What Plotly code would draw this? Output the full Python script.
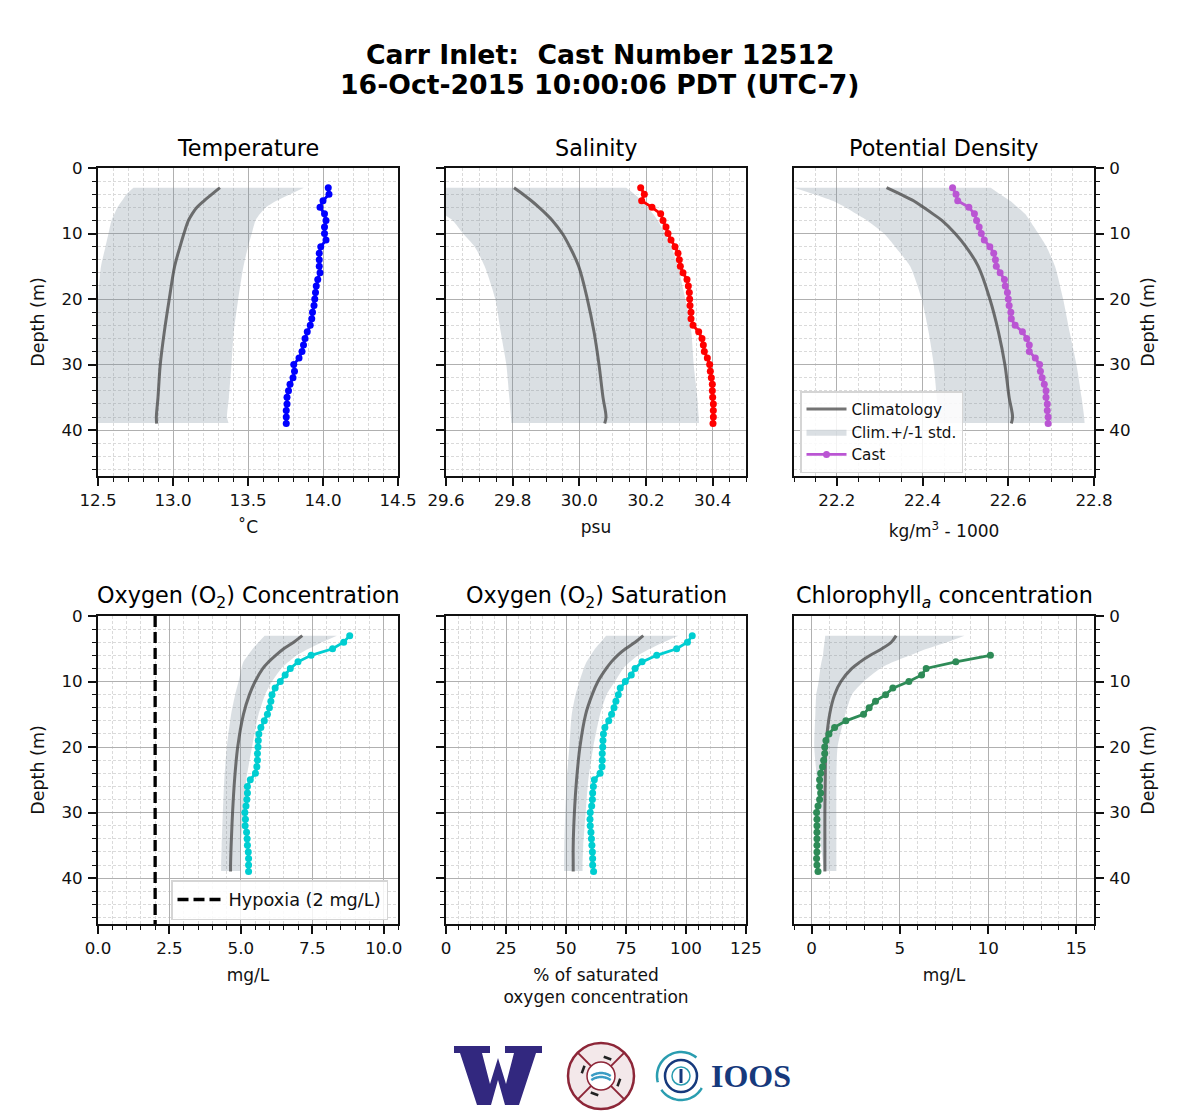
import math
import plotly.graph_objects as go

W, H = 1200, 1120

depth_cast = list(range(3, 40))
depth_chl = list(range(6, 40))
depth_clim = [3, 4, 5, 6, 7, 8, 10, 12, 15, 20, 25, 30, 35, 38, 39]
depth_band = [3, 4, 5, 6, 7, 8, 10, 12, 15, 20, 25, 30, 35, 38, 38.9]

temp_cast = [14.035, 14.04, 14.0, 13.98, 14.01, 14.02, 14.01, 14.01, 14.02, 13.985, 13.975, 13.975, 13.975, 13.98, 13.965, 13.955, 13.95, 13.945, 13.94, 13.93, 13.925, 13.915, 13.895, 13.88, 13.87, 13.86, 13.84, 13.805, 13.81, 13.80, 13.78, 13.77, 13.76, 13.76, 13.755, 13.755, 13.755]
temp_clim = [13.313, 13.26, 13.207, 13.16, 13.128, 13.103, 13.073, 13.047, 13.011, 12.975, 12.942, 12.915, 12.90, 12.889, 12.891]
temp_low = [12.736, 12.69, 12.66, 12.63, 12.61, 12.59, 12.57, 12.55, 12.52, 12.50, 12.48, 12.46, 12.44, 12.43, 12.42]
temp_high = [13.873, 13.78, 13.69, 13.62, 13.58, 13.55, 13.525, 13.50, 13.47, 13.435, 13.405, 13.39, 13.373, 13.36, 13.37]

sal_cast = [30.184, 30.195, 30.187, 30.218, 30.244, 30.251, 30.26, 30.266, 30.275, 30.287, 30.296, 30.30, 30.303, 30.311, 30.323, 30.327, 30.33, 30.331, 30.332, 30.335, 30.335, 30.341, 30.358, 30.368, 30.372, 30.375, 30.384, 30.391, 30.393, 30.396, 30.399, 30.399, 30.40, 30.402, 30.402, 30.402, 30.401]
sal_clim = [29.804, 29.831, 29.856, 29.879, 29.90, 29.919, 29.949, 29.971, 29.998, 30.024, 30.044, 30.059, 30.071, 30.08, 30.076]
sal_low = [29.40, 29.46, 29.50, 29.55, 29.59, 29.62, 29.651, 29.686, 29.716, 29.748, 29.764, 29.781, 29.79, 29.795, 29.796]
sal_high = [30.141, 30.166, 30.187, 30.205, 30.221, 30.235, 30.257, 30.276, 30.296, 30.318, 30.336, 30.343, 30.354, 30.358, 30.359]

dens_cast = [22.47, 22.478, 22.482, 22.508, 22.521, 22.526, 22.532, 22.537, 22.544, 22.557, 22.566, 22.57, 22.572, 22.581, 22.591, 22.593, 22.598, 22.60, 22.602, 22.606, 22.607, 22.616, 22.633, 22.643, 22.649, 22.649, 22.663, 22.673, 22.675, 22.679, 22.684, 22.688, 22.688, 22.691, 22.691, 22.693, 22.693]
dens_clim = [22.316, 22.348, 22.379, 22.402, 22.424, 22.445, 22.476, 22.501, 22.53, 22.557, 22.577, 22.592, 22.602, 22.61, 22.607]
dens_low = [22.10, 22.147, 22.19, 22.22, 22.245, 22.27, 22.31, 22.336, 22.371, 22.398, 22.414, 22.426, 22.433, 22.436, 22.437]
dens_high = [22.559, 22.581, 22.604, 22.622, 22.639, 22.65, 22.67, 22.689, 22.709, 22.728, 22.743, 22.759, 22.771, 22.777, 22.778]

oxy_cast = [8.81, 8.6, 8.21, 7.46, 7.0, 6.73, 6.55, 6.38, 6.2, 6.09, 6.05, 6.0, 5.93, 5.82, 5.7, 5.63, 5.61, 5.6, 5.58, 5.58, 5.56, 5.51, 5.33, 5.23, 5.23, 5.21, 5.18, 5.14, 5.16, 5.15, 5.2, 5.22, 5.23, 5.26, 5.27, 5.27, 5.27]
oxy_clim = [7.15, 6.85, 6.5, 6.22, 5.97, 5.77, 5.5, 5.3, 5.09, 4.89, 4.78, 4.71, 4.66, 4.64, 4.64]
oxy_low = [5.83, 5.62, 5.42, 5.25, 5.09, 5.02, 4.92, 4.8, 4.66, 4.51, 4.42, 4.37, 4.33, 4.31, 4.31]
oxy_high = [8.36, 7.84, 7.37, 6.96, 6.67, 6.42, 6.09, 5.85, 5.62, 5.39, 5.19, 5.09, 5.0, 4.98, 4.98]

sat_cast = [102.6, 100.6, 96.1, 87.8, 81.7, 78.8, 77.2, 74.7, 72.6, 71.8, 70.8, 70, 69, 67.8, 66.2, 65.6, 65.4, 65.3, 65.1, 65.1, 65, 64.2, 61.8, 61.4, 61.1, 61, 60.7, 60.1, 60, 60.1, 60.4, 60.6, 60.8, 61, 61.1, 61.1, 61.5]
sat_clim = [82.2, 78.8, 74.8, 71.5, 68.9, 66.8, 63.3, 60.9, 58.2, 55.8, 54.4, 53.5, 53, 53, 53]
sat_low = [66.7, 64.4, 62.1, 60.3, 58.6, 57.4, 55.6, 54, 52.4, 51.4, 50.3, 49.7, 49.3, 49.2, 49.2]
sat_high = [96.8, 90.6, 85, 80.1, 76.7, 73.9, 70.4, 66.9, 64.2, 61.4, 59.3, 58.2, 57.2, 56.9, 56.9]

chl_cast = [10.13, 8.17, 6.49, 6.23, 5.51, 4.6, 4.19, 3.62, 3.26, 2.94, 1.94, 1.3, 0.98, 0.81, 0.74, 0.74, 0.68, 0.62, 0.51, 0.45, 0.45, 0.51, 0.45, 0.36, 0.28, 0.3, 0.3, 0.3, 0.3, 0.3, 0.3, 0.28, 0.3, 0.36]
chl_clim = [4.79, 4.51, 3.98, 3.32, 2.75, 2.28, 1.66, 1.3, 1.02, 0.81, 0.77, 0.75, 0.75, 0.75, 0.75]
chl_low = [0.77, 0.73, 0.68, 0.64, 0.56, 0.49, 0.4, 0.26, 0.21, 0.15, 0.3, 0.4, 0.53, 0.66, 0.68]
chl_high = [8.66, 7.66, 6.53, 5.58, 4.64, 3.89, 2.94, 2.28, 1.91, 1.47, 1.4, 1.4, 1.4, 1.4, 1.4]

hypoxia_x = [2, 2]
hypoxia_y = [0, 47]

FONT = "DejaVu Sans"
BAND = "rgba(119,136,153,0.27)"
CLIM = "rgba(70,70,70,0.75)"
TXT = "#111111"

panels = [
    dict(title="Temperature", xt="˚C", cast=temp_cast, dc=depth_cast, clim=temp_clim, lo=temp_low, hi=temp_high, color="#0000ff",
         rng=[12.5, 14.5], tick0=12.5, dtick=0.5, minor=0.1, fmt=".1f", col=0, row=0, so=12),
    dict(title="Salinity", xt="psu", cast=sal_cast, dc=depth_cast, clim=sal_clim, lo=sal_low, hi=sal_high, color="#ff0000",
         rng=[29.6, 30.5], tick0=29.6, dtick=0.2, minor=0.05, fmt=".1f", col=1, row=0, so=12),
    dict(title="Potential Density", xt="kg/m<sup>3</sup> - 1000", cast=dens_cast, dc=depth_cast, clim=dens_clim, lo=dens_low, hi=dens_high, color="#ba55d3",
         rng=[22.1, 22.8], tick0=22.2, dtick=0.2, minor=0.05, fmt=".1f", col=2, row=0, so=16),
    dict(title="Oxygen (O<sub>2</sub>) Concentration", xt="mg/L", cast=oxy_cast, dc=depth_cast, clim=oxy_clim, lo=oxy_low, hi=oxy_high, color="#00ced1",
         rng=[0, 10.5], tick0=0, dtick=2.5, minor=0.5, fmt=".1f", col=0, row=1, so=12),
    dict(title="Oxygen (O<sub>2</sub>) Saturation", xt="% of saturated<br>oxygen concentration", cast=sat_cast, dc=depth_cast, clim=sat_clim, lo=sat_low, hi=sat_high, color="#00ced1",
         rng=[0, 125], tick0=0, dtick=25, minor=5, fmt="d", col=1, row=1, so=12),
    dict(title="Chlorophyll<sub><i>a</i></sub> concentration", xt="mg/L", cast=chl_cast, dc=depth_chl, clim=chl_clim, lo=chl_low, hi=chl_high, color="#2e8b57",
         rng=[-1, 16], tick0=0, dtick=5, minor=1, fmt="d", col=2, row=1, so=12),
]

XL = [98, 446, 794]
YT = [168, 616]
TITLE_GAP = [5, 2]
PW, PH = 300, 308

def fx(x): return x / W
def fy(y): return 1 - y / H

fig = go.Figure()
annotations = []
TICKC = "#111111"
GRIDMINOR = dict(showgrid=True, gridcolor="#dadada", griddash="3px,2px", gridwidth=0.7)

for i, p in enumerate(panels):
    n = "" if i == 0 else str(i + 1)
    xa, ya = "x" + n, "y" + n
    show = i == 2
    legkw = dict(legend="legend") if show else {}
    fig.add_trace(go.Scatter(x=p["lo"], y=depth_band, xaxis=xa, yaxis=ya, mode="lines", line=dict(width=0, shape="spline", smoothing=0.6),
                             showlegend=False, hoverinfo="skip"))
    fig.add_trace(go.Scatter(x=p["hi"], y=depth_band, xaxis=xa, yaxis=ya, mode="lines", line=dict(width=0, shape="spline", smoothing=0.6),
                             fill="tonextx", fillcolor=BAND, name="Clim.+/-1 std.", showlegend=show, legendrank=2, **legkw))
    fig.add_trace(go.Scatter(x=p["clim"], y=depth_clim, xaxis=xa, yaxis=ya, mode="lines", line=dict(color=CLIM, width=3, shape="spline", smoothing=1.0),
                             name="Climatology", showlegend=show, legendrank=1, **legkw))
    fig.add_trace(go.Scatter(x=p["cast"], y=p["dc"], xaxis=xa, yaxis=ya, mode="lines+markers", line=dict(color=p["color"], width=2.8),
                             marker=dict(color=p["color"], size=7), name="Cast", showlegend=show, legendrank=3, **legkw))
    if i == 3:
        fig.add_trace(go.Scatter(x=hypoxia_x, y=hypoxia_y, xaxis=xa, yaxis=ya, mode="lines", line=dict(color="black", width=3.3, dash="11px,5px"),
                                 name="Hypoxia (2 mg/L)", showlegend=True, legend="legend2"))
    x0 = XL[p["col"]]
    y0 = YT[p["row"]]
    common = dict(showline=True, mirror=True, linecolor="#111111", linewidth=2, ticks="outside", ticklen=8, tickwidth=1.6, tickcolor=TICKC, automargin=False,
                  showgrid=True, gridcolor="#b0b0b0", gridwidth=1, zeroline=False, tickfont=dict(family=FONT, size=16.7, color=TXT))
    fig.layout["xaxis" + n] = dict(common, domain=[fx(x0), fx(x0 + PW)], anchor=ya, range=p["rng"], tick0=p["tick0"], dtick=p["dtick"], tickformat=p["fmt"],
                                   minor=dict(dtick=p["minor"], tick0=p["tick0"], ticks="outside", ticklen=4, tickwidth=1.2, tickcolor=TICKC, **GRIDMINOR),
                                   title=dict(text=p["xt"], font=dict(family=FONT, size=17, color=TXT), standoff=p["so"]))
    ytitle = {}
    side = "right" if p["col"] == 2 else "left"
    labels = p["col"] != 1
    if p["col"] != 1:
        ytitle = dict(title=dict(text="Depth (m)", font=dict(family=FONT, size=17.5, color=TXT), standoff=12))
    fig.layout["yaxis" + n] = dict(common, domain=[fy(y0 + PH), fy(y0)], anchor=xa, range=[47, 0], tick0=0, dtick=10, side=side, showticklabels=labels, ticklabelstandoff=2,
                                   minor=dict(dtick=2, tick0=0, ticks="outside", ticklen=4, tickwidth=1.2, tickcolor=TICKC, **GRIDMINOR), **ytitle)
    annotations.append(dict(text=p["title"], x=fx(x0 + PW / 2), y=fy(y0 - TITLE_GAP[p["row"]]), xref="paper", yref="paper", showarrow=False, xanchor="center", yanchor="bottom",
                            font=dict(family=FONT, size=22.3, color="#000000")))

for line_text, line_y in (("<b>Carr Inlet: \u00a0Cast Number 12512</b>", 54), ("<b>16-Oct-2015 10:00:06 PDT (UTC-7)</b>", 85)):
    annotations.append(dict(text=line_text, x=0.5, y=fy(line_y), xref="paper", yref="paper", showarrow=False, xanchor="center", yanchor="middle",
                            font=dict(family=FONT, size=26.7, color="#000000")))

# Logo strip under the panels
def path(pts, close=True):
    s = "M " + " L ".join(f"{fx(a):.5f},{fy(b):.5f}" for a, b in pts)
    return s + (" Z" if close else "")

def arc(cx, cy, r, a0, a1, n=30):
    return [(cx + r * math.cos(math.radians(a0 + (a1 - a0) * k / n)), cy + r * math.sin(math.radians(a0 + (a1 - a0) * k / n))) for k in range(n + 1)]

def circle(cx, cy, r, **kw):
    return dict(type="circle", xref="paper", yref="paper", x0=fx(cx - r), x1=fx(cx + r), y0=fy(cy + r), y1=fy(cy - r), **kw)

def stroke(pts, color, width):
    return dict(type="path", path=path(pts, False), xref="paper", yref="paper", line=dict(color=color, width=width))

shapes = []
w_logo = [(454, 1046), (490, 1046), (490, 1053), (482, 1053), (490, 1084), (498, 1058), (506, 1084), (514, 1053), (505, 1053), (505, 1046), (542, 1046), (542, 1053),
          (536, 1053), (519, 1105), (505, 1105), (498, 1080), (491, 1105), (477, 1105), (460, 1053), (454, 1053)]
shapes.append(dict(type="path", path=path(w_logo), xref="paper", yref="paper", fillcolor="#32287f", line=dict(width=0)))

shapes.append(circle(601, 1076, 33, line=dict(color="#8d2638", width=2.5), fillcolor="#f3e8ea"))
for a in (45, 135, 225, 315):
    c, s_ = math.cos(math.radians(a)), math.sin(math.radians(a))
    shapes.append(stroke([(601 + 14 * c, 1076 + 14 * s_), (601 + 33 * c, 1076 + 33 * s_)], "#8d2638", 2))
for a in (0, 90, 180, 270):
    c, s_ = math.cos(math.radians(a + 20)), math.sin(math.radians(a + 20))
    shapes.append(stroke([(601 + 19 * c - 4 * s_, 1076 + 19 * s_ + 4 * c), (601 + 19 * c + 4 * s_, 1076 + 19 * s_ - 4 * c)], "#222222", 2.5))
shapes.append(circle(601, 1076, 14, line=dict(color="#8d2638", width=1.5), fillcolor="#ffffff"))
shapes.append(stroke(arc(601, 1090, 17, 235, 305), "#3a9cc4", 2.5))
shapes.append(stroke(arc(601, 1094, 17, 235, 305), "#3a9cc4", 2.5))

shapes.append(stroke(arc(681, 1076, 24, 165, 310), "#2a9db0", 2.5))
shapes.append(stroke(arc(681, 1076, 24, 30, 145), "#2a9db0", 2.5))
shapes.append(circle(681, 1076, 16, line=dict(color="#16397c", width=2.5), fillcolor="rgba(0,0,0,0)"))
shapes.append(circle(681, 1076, 9, line=dict(color="#2a9db0", width=1.5), fillcolor="rgba(0,0,0,0)"))
shapes.append(stroke([(681, 1069), (681, 1083)], "#16397c", 3))
annotations.append(dict(text="<b>IOOS</b>", x=fx(751), y=fy(1076), xref="paper", yref="paper", showarrow=False, xanchor="center", yanchor="middle",
                        font=dict(family="Liberation Serif", size=32, color="#16397c")))

fig.update_layout(
    width=W, height=H, margin=dict(l=0, r=0, t=0, b=0), autosize=False,
    paper_bgcolor="white", plot_bgcolor="white",
    font=dict(family=FONT, color=TXT),
    annotations=annotations, shapes=shapes,
    legend=dict(x=fx(800), y=fy(391), xanchor="left", yanchor="top", bgcolor="rgba(255,255,255,0.85)", bordercolor="#d5d5d5", borderwidth=1.5,
                font=dict(family=FONT, size=15.2, color=TXT), itemwidth=40, traceorder="normal"),
    legend2=dict(x=fx(171), y=fy(880), xanchor="left", yanchor="top", bgcolor="rgba(255,255,255,0.85)", bordercolor="#d5d5d5", borderwidth=1.5,
                 font=dict(family=FONT, size=17.7, color=TXT), itemwidth=46),
    showlegend=True,
)

fig.write_html("out.html", config=dict(displayModeBar=False), post_script="document.body.style.margin='0';")
